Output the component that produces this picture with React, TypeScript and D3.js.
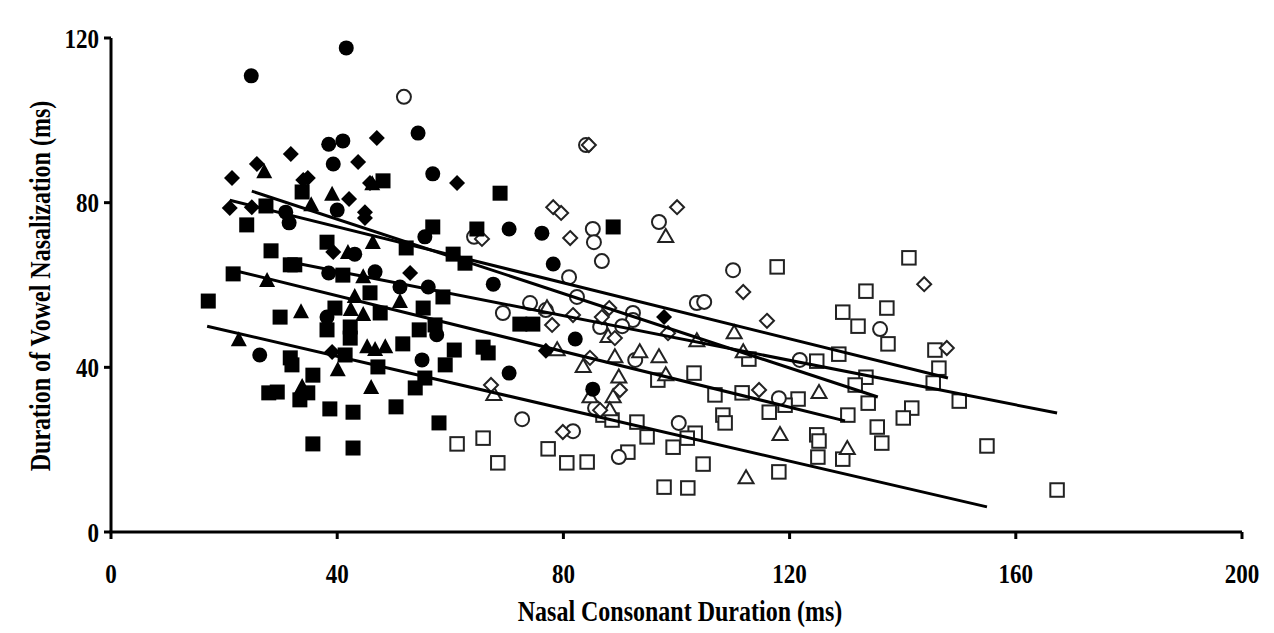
import React from 'react';
import * as d3 from 'd3';

type P = [number, number];

const xTicks = [0, 40, 80, 120, 160, 200];
const yTicks = [0, 40, 80, 120];
const xTitle = 'Nasal Consonant Duration (ms)';
const yTitle = 'Duration of Vowel Nasalization (ms)';

const filledCircles: P[] = [
  [24.8, 110.8], [41.6, 117.6], [54.3, 96.9], [38.5, 94.2], [41.0, 95.0], [39.3, 89.4],
  [56.9, 87.0], [40.0, 78.2], [30.9, 77.7], [31.5, 75.1], [43.1, 67.5], [46.7, 63.2],
  [38.5, 62.9], [51.1, 59.5], [56.1, 59.5], [67.6, 60.2], [78.2, 65.1], [55.5, 71.7],
  [70.4, 73.6], [76.2, 72.6], [38.2, 52.2], [57.6, 47.9], [55.0, 41.8], [70.4, 38.6],
  [26.3, 43.0], [82.1, 46.9], [85.2, 34.7],
];

const filledDiamonds: P[] = [
  [47.0, 95.7], [31.8, 91.8], [43.7, 89.9], [25.8, 89.4], [21.4, 86.0], [34.0, 85.5],
  [34.8, 86.0], [45.8, 84.8], [61.2, 84.8], [42.1, 80.9], [44.9, 77.7], [44.9, 76.3],
  [21.0, 78.7], [24.9, 78.9], [39.3, 68.0], [52.9, 62.9], [39.1, 43.7], [76.9, 44.0],
  [97.8, 52.2],
];

const filledTriangles: P[] = [
  [27.1, 87.4], [39.1, 81.9], [35.4, 79.4], [46.2, 84.5], [41.9, 67.8], [46.3, 70.2],
  [27.6, 61.0], [33.6, 53.4], [44.6, 61.9], [43.1, 57.1], [42.4, 53.9], [44.6, 52.7],
  [22.6, 46.6], [45.3, 44.9], [40.1, 39.3], [33.8, 35.2], [46.0, 35.0], [51.1, 55.9],
  [48.5, 44.9], [46.7, 44.2],
];

const filledSquares: P[] = [
  [48.1, 85.3], [33.8, 82.6], [68.8, 82.3], [27.4, 79.2], [24.0, 74.6], [56.9, 74.1],
  [64.7, 73.6], [38.2, 70.4], [52.2, 69.0], [28.3, 68.3], [60.5, 67.5], [62.6, 65.3],
  [31.7, 64.9], [32.5, 64.9], [21.6, 62.7], [41.0, 62.4], [45.8, 58.1], [58.7, 57.1],
  [17.2, 56.1], [47.6, 53.2], [55.2, 54.4], [39.6, 54.4], [29.9, 52.2], [38.2, 49.1],
  [42.3, 49.8], [42.3, 47.1], [57.3, 50.3], [54.5, 49.1], [72.3, 50.5], [74.6, 50.5],
  [51.6, 45.7], [60.7, 44.2], [65.8, 44.9], [66.7, 43.5], [59.1, 40.6], [41.4, 43.0],
  [31.7, 42.3], [32.0, 40.6], [47.2, 40.1], [35.7, 38.1], [55.5, 37.4], [53.8, 35.0],
  [34.8, 33.8], [33.4, 32.1], [27.9, 33.8], [29.4, 34.0], [50.4, 30.4], [38.7, 29.9],
  [42.8, 29.1], [58.0, 26.5], [35.7, 21.4], [42.8, 20.4], [88.8, 74.1],
];

const openCircles: P[] = [
  [51.8, 105.7], [84.0, 94.0], [64.2, 71.7], [85.2, 73.6], [85.4, 70.4], [86.8, 65.8],
  [96.9, 75.3], [81.0, 61.9], [110.0, 63.6], [82.4, 57.1], [103.6, 55.6], [104.9, 55.9],
  [92.3, 53.2], [92.3, 51.5], [86.5, 49.8], [90.4, 50.0], [69.3, 53.2], [74.1, 55.6],
  [76.9, 53.9], [92.7, 41.8], [136.0, 49.3], [121.8, 41.8], [118.1, 32.5], [85.6, 30.1],
  [81.7, 24.5], [100.4, 26.5], [89.8, 18.2], [72.7, 27.4],
];

const openDiamonds: P[] = [
  [78.2, 78.9], [79.6, 77.5], [65.6, 71.2], [81.2, 71.4], [100.1, 78.9], [111.8, 58.3],
  [143.8, 60.2], [116.0, 51.3], [147.8, 44.7], [81.7, 52.7], [88.1, 54.4], [86.8, 52.2],
  [78.0, 50.3], [98.5, 48.3], [84.7, 42.3], [89.1, 47.1], [90.0, 34.5], [86.5, 29.6],
  [114.6, 34.5], [67.2, 35.7], [79.9, 24.3], [84.5, 94.0],
];

const openTriangles: P[] = [
  [98.1, 71.7], [77.1, 54.4], [78.9, 44.2], [67.7, 33.3], [83.5, 40.1], [89.1, 42.5],
  [93.5, 43.7], [96.9, 42.5], [103.6, 46.4], [110.2, 48.3], [111.8, 43.7], [87.9, 47.4],
  [89.8, 37.6], [98.1, 38.1], [84.7, 32.8], [88.8, 32.8], [88.2, 29.6], [112.3, 13.1],
  [125.2, 33.8], [118.3, 23.6], [130.2, 20.2],
];

const openSquares: P[] = [
  [112.8, 42.0], [96.7, 36.9], [103.1, 38.6], [106.8, 33.3], [111.6, 33.8], [87.0, 28.4],
  [88.6, 27.2], [93.0, 26.7], [94.8, 23.1], [103.3, 24.0], [101.9, 22.8], [108.2, 28.4],
  [108.6, 26.5], [99.4, 20.6], [91.4, 19.4], [80.6, 16.8], [84.2, 17.0], [104.7, 16.5],
  [97.8, 10.9], [102.0, 10.7], [61.2, 21.4], [65.8, 22.8], [68.4, 16.8], [77.3, 20.2],
  [117.8, 64.4], [141.1, 66.6], [133.5, 58.5], [137.2, 54.4], [129.4, 53.4], [132.1, 50.0],
  [137.4, 45.7], [145.7, 44.2], [146.4, 39.8], [128.7, 43.2], [124.8, 41.5], [121.5, 32.3],
  [119.2, 30.8], [116.4, 29.1], [130.3, 28.4], [133.9, 31.3], [133.5, 37.6], [131.6, 35.7],
  [145.4, 36.2], [141.6, 30.1], [140.1, 27.7], [135.5, 25.5], [136.3, 21.6], [124.8, 23.6],
  [125.2, 22.1], [125.0, 18.2], [129.4, 17.7], [118.1, 14.6], [150.0, 31.8], [154.9, 20.9],
  [167.3, 10.2],
];

// regression line endpoints [x0, y0, x1, y1]
const trendLines: [number, number, number, number][] = [
  [17.0, 50.0, 154.9, 6.1],
  [21.6, 63.6, 129.8, 27.0],
  [24.9, 82.8, 135.6, 32.8],
  [21.0, 80.6, 148.0, 37.4],
  [31.7, 65.6, 167.3, 28.9],
];

const FONT = "'Liberation Serif', 'Times New Roman', serif";

export default function App() {
  const W = 1274;
  const H = 633;
  const x = d3.scaleLinear().domain([0, 200]).range([111, 1242]);
  const y = d3.scaleLinear().domain([0, 120]).range([532, 38]);

  const sq = 15;
  const osq = 13.5;
  const stroke = '#222';
  const tall = 'scale(0.96,1.15)';

  const triPath = (cx: number, cy: number, w: number, h: number) =>
    `M${cx},${cy - h * 0.6}L${cx + w / 2},${cy + h * 0.4}L${cx - w / 2},${cy + h * 0.4}Z`;
  const diaPath = (cx: number, cy: number, r: number) =>
    `M${cx},${cy - r}L${cx + r},${cy}L${cx},${cy + r}L${cx - r},${cy}Z`;

  return (
    <svg width={W} height={H} style={{ position: 'absolute', left: 0, top: 0, background: '#fff' }}>
      <rect x={0} y={0} width={W} height={H} fill="#fff" />
      {/* open markers */}
      <g fill="#fff" stroke={stroke} strokeWidth={2}>
        {openSquares.map((d, i) => (
          <rect key={'os' + i} x={x(d[0]) - osq / 2} y={y(d[1]) - osq / 2} width={osq} height={osq} />
        ))}
        {openCircles.map((d, i) => (
          <circle key={'oc' + i} cx={x(d[0])} cy={y(d[1])} r={7} />
        ))}
        {openTriangles.map((d, i) => (
          <path key={'ot' + i} d={triPath(x(d[0]), y(d[1]), 15, 13)} />
        ))}
        {openDiamonds.map((d, i) => (
          <path key={'od' + i} d={diaPath(x(d[0]), y(d[1]), 7)} />
        ))}
      </g>
      {/* filled markers */}
      <g fill="#000" stroke="none">
        {filledDiamonds.map((d, i) => (
          <path key={'fd' + i} d={diaPath(x(d[0]), y(d[1]), 8)} />
        ))}
        {filledTriangles.map((d, i) => (
          <path key={'ft' + i} d={triPath(x(d[0]), y(d[1]), 16, 15)} />
        ))}
        {filledCircles.map((d, i) => (
          <circle key={'fc' + i} cx={x(d[0])} cy={y(d[1])} r={7.5} />
        ))}
        {filledSquares.map((d, i) => (
          <rect key={'fs' + i} x={x(d[0]) - sq / 2} y={y(d[1]) - sq / 2} width={sq} height={sq} />
        ))}
      </g>
      {/* trend lines */}
      <g stroke="#000" strokeWidth={3} fill="none">
        {trendLines.map((l, i) => (
          <line key={'tl' + i} x1={x(l[0])} y1={y(l[1])} x2={x(l[2])} y2={y(l[3])} />
        ))}
      </g>
      {/* axes */}
      <g stroke="#000" strokeWidth={3} fill="none">
        <line x1={x(0)} y1={y(0)} x2={x(0)} y2={y(120)} />
        <line x1={x(0) - 1.5} y1={y(0)} x2={x(200)} y2={y(0)} />
        {yTicks.map((t) => (
          <line key={'yt' + t} x1={x(0) - 7} x2={x(0)} y1={y(t)} y2={y(t)} />
        ))}
        {xTicks.map((t) => (
          <line key={'xt' + t} x1={x(t)} x2={x(t)} y1={y(0)} y2={y(0) + 7} />
        ))}
      </g>
      <g fontFamily={FONT} fontWeight="bold" fontSize={24} fill="#000">
        {yTicks.map((t) => (
          <g key={'yl' + t} transform={`translate(${x(0) - 12},${y(t)}) ${tall}`}>
            <text textAnchor="end" dominantBaseline="central">
              {t}
            </text>
          </g>
        ))}
        {xTicks.map((t) => (
          <g key={'xl' + t} transform={`translate(${x(t)},${y(0) + 41}) ${tall}`}>
            <text textAnchor="middle" dominantBaseline="central">
              {t}
            </text>
          </g>
        ))}
      </g>
      <g fontFamily={FONT} fontWeight="bold" fontSize={25} fill="#000">
        <g transform={`translate(680,611) ${tall}`}>
          <text textAnchor="middle" dominantBaseline="central">
            {xTitle}
          </text>
        </g>
        <g transform={`translate(40,286) rotate(-90) ${tall}`}>
          <text textAnchor="middle" dominantBaseline="central">
            {yTitle}
          </text>
        </g>
      </g>
    </svg>
  );
}
